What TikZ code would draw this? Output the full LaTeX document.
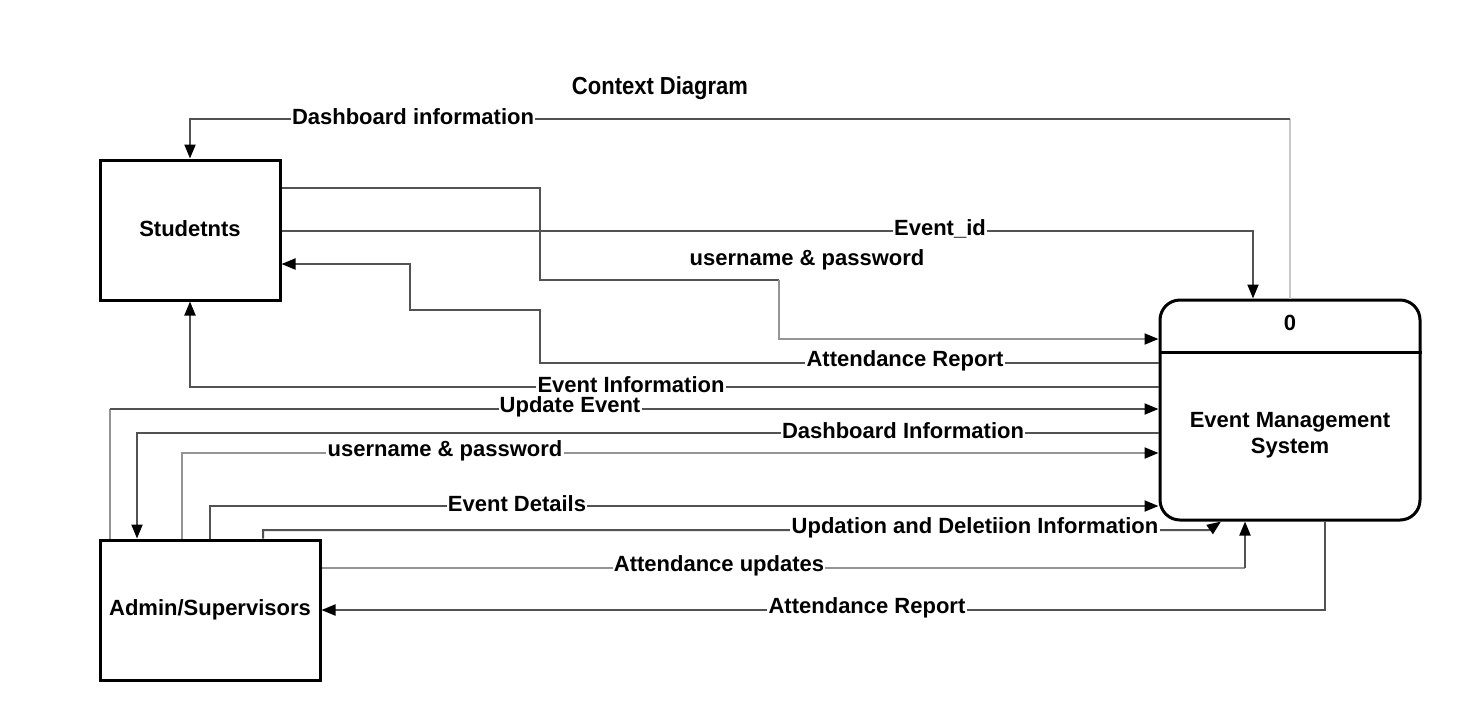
\documentclass[tikz,border=0pt]{standalone}
\usepackage{fontspec}
\setmainfont{Liberation Sans}
\usetikzlibrary{arrows.meta}
\begin{document}
\begin{tikzpicture}[x=0.5pt,y=-0.5pt,
  txt/.style={font=\bfseries\fontsize{11}{13}\selectfont,align=center},
  box/.style={draw=black,line width=1.5pt,txt,inner sep=0pt},
  dk/.style={draw=black!68,line width=1pt},
  lt/.style={draw=black!42,line width=1pt},
  vlt/.style={draw=black!22,line width=1pt},
  arr/.style={-{Triangle[length=7pt,width=5.5pt,color=black]}},
  lbl/.style={fill=white,inner xsep=0.6pt,inner ysep=0pt,txt,text=black,yshift=1.3pt}]
\useasboundingbox (0,0) rectangle (1460,720);

% title
\node[txt] (title) at (660,88) {\scalebox{1.0}[1.12]{Context Diagram}};

% entities
\node[box,minimum width=90pt,minimum height=70pt] (stu) at (190,230) {\raisebox{1.2pt}{Studetnts}};
\node[box,minimum width=110pt,minimum height=70pt] (adm) at (210,610) {Admin/Supervisors};
\node[draw=black,line width=1.5pt,rounded corners=10pt,minimum width=130pt,minimum height=110pt] (ems) at (1290,410) {};
\draw[line width=1.5pt] (ems.west |- 0,352) -- (ems.east |- 0,352);
\node[txt] (zero) at (1290,323) {0};
\node[txt] (emsname) at (1290,435) {Event Management\\System};

% Dashboard information (to students)
\coordinate (c1) at (1290,119);
\draw[vlt] (ems.north) -- (c1);
\draw[dk,arr] (c1) -- (413,119) node[lbl] (l1) {Dashboard information} -- (190,119) -- (stu.north);

% Event_id
\draw[dk,arr] (stu.east |- 0,231) -- (940,231) node[lbl] (l2) {Event\_id} -- (1253,231) -- (ems.north -| 1253,0);

% username & password (students)
\coordinate (c3) at (779,280);
\draw[dk] (stu.east |- 0,188) -- (540,188) -- (540,280) -- (c3);
\draw[lt,arr] (c3) -- (779,339) -- (ems.west |- 0,339);
\node[txt] (l3) at (807,260) {username \& password};

% Attendance Report (to students)
\draw[dk,arr] (ems.west |- 0,363) -- (905,363) node[lbl] (l4) {Attendance Report} -- (540,363) -- (540,310) -- (410,310) -- (410,264) -- (stu.east |- 0,264);

% Event Information
\draw[dk,arr] (ems.west |- 0,387) -- (631,387) node[lbl] (l5) {Event Information} -- (190,387) -- (stu.south);

% Update Event
\coordinate (c6) at (110,409);
\draw[lt] (adm.north -| 110,0) -- (c6);
\draw[dk,arr] (c6) -- (570,409) node[lbl] (l6) {Update Event} -- (ems.west |- 0,409);

% Dashboard Information (to admin)
\draw[dk,arr] (ems.west |- 0,433) -- (903,433) node[lbl] (l7) {Dashboard Information} -- (137,433) -- (adm.north -| 137,0);

% username & password (admin)
\draw[lt,arr] (adm.north -| 182,0) -- (182,453) -- (445,453) node[lbl] (l8) {username \& password} -- (ems.west |- 0,453);

% Event Details
\draw[dk,arr] (adm.north -| 210,0) -- (210,506) -- (517,506) node[lbl] (l9) {Event Details} -- (ems.west |- 0,506);

% Updation and Deletiion Information
\draw[dk,arr] (adm.north -| 263,0) -- (263,530) -- (975,530) node[lbl] (l10) {Updation and Deletiion Information} -- (1209,530) -- (ems.south -| 1221,0);

% Attendance updates
\draw[lt] (adm.east |- 0,568) -- (719,568) node[lbl] (l11) {Attendance updates} -- (1245,568);
\draw[dk,arr] (1245,568) -- (ems.south -| 1245,0);

% Attendance Report (to admin)
\draw[dk,arr] (ems.south -| 1325,0) -- (1325,610) -- (867,610) node[lbl] (l12) {Attendance Report} -- (adm.east |- 0,610);
\end{tikzpicture}
\end{document}
